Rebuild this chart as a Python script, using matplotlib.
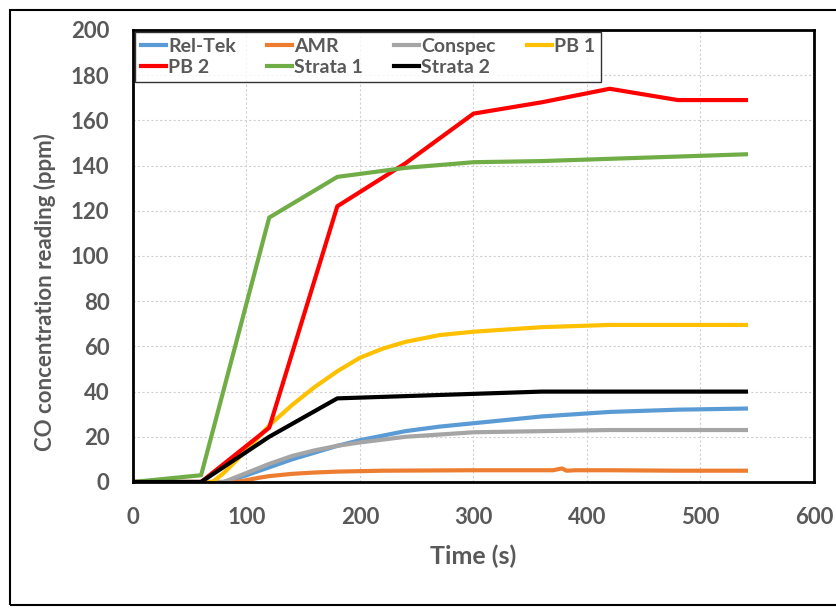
import matplotlib.pyplot as plt
from matplotlib.patches import Rectangle

plt.rcParams['font.family'] = ['Lato', 'DejaVu Sans']
grey = '#595959'

# step-wise sampled sensors (60 s)
t_step = [0, 60, 120, 180, 240, 300, 360, 420, 480, 540]
pb2 = [0, 0, 24, 122, 141, 163, 168, 174, 169, 169]
strata1 = [0, 3, 117, 135, 139, 141.5, 142, 143, 144, 145]
strata2 = [0, 0, 20, 37, 38, 39, 40, 40, 40, 40]

# continuously logged sensors
t_pb1 = [0, 60, 70, 80, 90, 100, 120, 140, 160, 180, 200, 220, 240, 270, 300, 330, 360, 420, 480, 540]
pb1 = [0, 0, 0, 4, 9, 14, 25, 34, 42, 49, 55, 59, 62, 65, 66.5, 67.5, 68.5, 69.5, 69.5, 69.5]

t_rel = [0, 60, 80, 90, 100, 120, 140, 160, 180, 200, 240, 270, 300, 330, 360, 420, 480, 540]
reltek = [0, 0, 0, 1.5, 3, 6.5, 10, 13, 16, 18.5, 22.5, 24.5, 26, 27.5, 29, 31, 32, 32.5]

t_con = [0, 60, 80, 90, 100, 120, 140, 160, 180, 200, 240, 270, 300, 360, 420, 480, 540]
conspec = [0, 0, 0, 2, 4, 8, 11.5, 14, 16, 17.5, 20, 21, 22, 22.5, 23, 23, 23]

t_amr = [0, 60, 90, 100, 110, 120, 140, 160, 180, 220, 300, 370, 378, 382, 390, 420, 480, 540]
amr = [0, 0, 0, 0.8, 1.8, 2.6, 3.6, 4.2, 4.6, 5, 5.2, 5.2, 6, 5, 5.2, 5.2, 5, 5]

fig = plt.figure(figsize=(8.37, 6.08), dpi=100)
fig.patches.append(Rectangle((10 / 837, 3 / 608), 1.0, 1 - 13 / 608, transform=fig.transFigure,
                             fill=False, edgecolor='black', linewidth=1.5))
ax = fig.add_axes([133 / 837, 1 - 482 / 608, 681 / 837, 452 / 608])

lw = 3
h = {}
h['Rel-Tek'], = ax.plot(t_rel, reltek, color='#5B9BD5', lw=lw)
h['AMR'], = ax.plot(t_amr, amr, color='#ED7D31', lw=lw)
h['Conspec'], = ax.plot(t_con, conspec, color='#A5A5A5', lw=lw)
h['PB 1'], = ax.plot(t_pb1, pb1, color='#FFC000', lw=lw)
h['PB 2'], = ax.plot(t_step, pb2, color='#FF0000', lw=lw)
h['Strata 1'], = ax.plot(t_step, strata1, color='#70AD47', lw=lw)
h['Strata 2'], = ax.plot(t_step, strata2, color='#000000', lw=lw)

ax.set_xlim(0, 600)
ax.set_ylim(0, 200)
ax.set_xticks(range(0, 601, 100))
ax.set_yticks(range(0, 201, 20))
ax.grid(True, color='#D0D0D0', linestyle=(0, (2, 2)), linewidth=0.8)
ax.set_axisbelow(True)
for s in ax.spines.values():
    s.set_linewidth(2)
ax.tick_params(length=0, labelsize=16, labelcolor=grey)
ax.tick_params(axis='x', pad=18)
ax.tick_params(axis='y', pad=17)
for lab in ax.get_xticklabels() + ax.get_yticklabels():
    lab.set_fontweight('bold')
ax.set_xlabel('Time (s)', fontsize=18, fontweight='bold', color=grey, labelpad=12)
ax.set_ylabel('CO concentration reading (ppm)', fontsize=16, fontweight='bold', color=grey)
ax.yaxis.set_label_coords(-0.113, 0.42)

# row-major legend order for ncol=4
order = ['Rel-Tek', 'PB 2', 'AMR', 'Strata 1', 'Conspec', 'Strata 2', 'PB 1']
leg = ax.legend([h[k] for k in order], order, loc='upper left', ncol=4, frameon=True, fancybox=False,
                borderaxespad=0.1, handlelength=1.3, handletextpad=0.1, columnspacing=1.6,
                labelspacing=0.2, borderpad=0.3, prop={'weight': 'bold', 'size': 14})
leg.get_frame().set_edgecolor('black')
leg.get_frame().set_linewidth(1)
for txt in leg.get_texts():
    txt.set_color(grey)

fig.savefig('out.png', dpi=100)
